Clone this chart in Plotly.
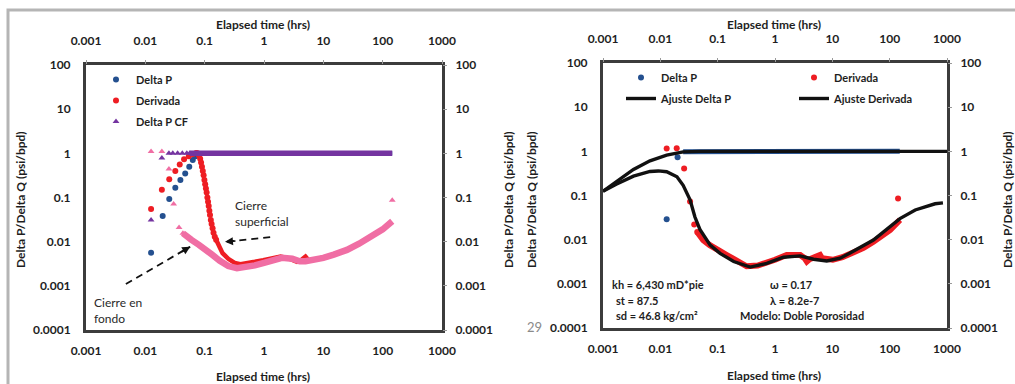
import math
import plotly.graph_objects as go

W, H = 1015, 384

# ---------------- tick labels ----------------
x_tick_vals = [0.001, 0.01, 0.1, 1, 10, 100, 1000]
x_tick_text = ["0.001", "0.01", "0.1", "1", "10", "100", "1000"]
y_tick_vals = [0.0001, 0.001, 0.01, 0.1, 1, 10, 100]
y_tick_text = ["0.0001", "0.001", "0.01", "0.1", "1", "10", "100"]

# ---------------- left panel data ----------------
lp_dp_t = [0.0125, 0.0196, 0.0253, 0.032, 0.039, 0.047, 0.055, 0.063, 0.07]
lp_dp_v = [0.0056, 0.038, 0.092, 0.166, 0.25, 0.35, 0.50, 0.71, 0.86]
lp_dp_flat_t = [0.075, 0.1, 145]
lp_dp_flat_v = [0.95, 1.0, 1.0]

lp_der_t = [0.0125, 0.019, 0.0253, 0.032, 0.038, 0.045, 0.054, 0.063, 0.072,
            0.076, 0.08, 0.084, 0.087, 0.09, 0.093, 0.096, 0.099, 0.102, 0.105,
            0.108, 0.111, 0.114, 0.117, 0.12, 0.123, 0.127, 0.131, 0.136, 0.141,
            0.148, 0.156]
lp_der_v = [0.055, 0.15, 0.26, 0.40, 0.56, 0.73, 0.86, 0.97, 1.02,
            1.0, 0.9, 0.75, 0.62, 0.5, 0.4, 0.32, 0.25, 0.2, 0.16,
            0.13, 0.1, 0.08, 0.064, 0.05, 0.04, 0.031, 0.025, 0.02, 0.016,
            0.013, 0.011]
lp_der_dense_t = [0.156, 0.18, 0.2, 0.25, 0.32, 0.4, 0.51, 0.7, 0.97, 1.4, 1.9,
                  2.6, 3.6, 4.2, 5.0, 5.6, 7, 10]
lp_der_dense_v = [0.011, 0.0072, 0.0055, 0.0041, 0.0033, 0.0031, 0.0032, 0.0035,
                  0.0038, 0.0043, 0.0046, 0.0042, 0.0035, 0.0038, 0.0046, 0.0038,
                  0.0039, 0.0044]

lp_cf_t = [0.0125, 0.019, 0.025, 0.029, 0.035, 0.042, 0.05, 0.056]
lp_cf_v = [0.031, 0.78, 1.0, 1.0, 1.0, 1.0, 1.0, 1.0]
lp_cf_flat_t = [0.056, 1, 145]
lp_cf_flat_v = [1.0, 1.0, 1.0]

lp_dcf_t = [0.0125, 0.019, 0.025, 0.030, 0.037, 0.043, 145]
lp_dcf_v = [1.1, 1.1, 0.44, 0.071, 0.021, 0.0155, 0.087]
lp_dcf_dense_t = [0.043, 0.05, 0.06, 0.08, 0.1, 0.13, 0.18, 0.25, 0.35, 0.5, 0.7,
                  1, 1.5, 2, 3, 4, 5, 7, 10, 15, 25, 40, 70, 100, 145]
lp_dcf_dense_v = [0.0155, 0.013, 0.011, 0.0085, 0.007, 0.0052, 0.0037, 0.0028,
                  0.0025, 0.0026, 0.0029, 0.0033, 0.0039, 0.0043, 0.0041, 0.0036,
                  0.0036, 0.0039, 0.0043, 0.0051, 0.0065, 0.009, 0.014, 0.019,
                  0.029]

# arrows (tail -> head)
arrow_sup_t = [1.27, 0.22]
arrow_sup_v = [0.0127, 0.0099]
arrow_fon_t = [0.0047, 0.057]
arrow_fon_v = [0.0011, 0.0077]

# ---------------- right panel data ----------------
rp_dp_t = [0.0129, 0.02]
rp_dp_v = [0.029, 0.73]
rp_dp_flat_t = [0.025, 1, 150]
rp_dp_flat_v = [0.98, 1.0, 1.0]

rp_der_t = [0.0129, 0.0193, 0.026, 0.033, 0.039, 0.044, 140]
rp_der_v = [1.16, 1.17, 0.41, 0.073, 0.022, 0.015, 0.086]
rp_der_dense_t = [0.044, 0.056, 0.073, 0.084, 0.11, 0.144, 0.2, 0.32, 0.5, 0.72,
                  1.0, 1.6, 2.75, 3.3, 3.6, 4.0, 6.1, 6.6, 10.2, 15, 23, 35, 52,
                  75, 102, 151]
rp_der_dense_v = [0.015, 0.0098, 0.0075, 0.0069, 0.0055, 0.0045, 0.0035, 0.0025,
                  0.0026, 0.0030, 0.0035, 0.0045, 0.0045, 0.0038, 0.0032, 0.0036,
                  0.0045, 0.0038, 0.0035, 0.004, 0.0049, 0.0065, 0.009, 0.012,
                  0.0165, 0.028]

fit_dp_t = [0.001, 0.0017, 0.0034, 0.0066, 0.0129, 0.025, 0.05, 1, 1000]
fit_dp_v = [0.125, 0.2, 0.39, 0.61, 0.82, 0.97, 1.0, 1.0, 1.0]

fit_der_t = [0.001, 0.0017, 0.0034, 0.0066, 0.0092, 0.0129, 0.0195, 0.025, 0.033,
             0.04, 0.049, 0.074, 0.11, 0.19, 0.37, 0.72, 1.4, 2.75, 4.7, 8,
             13.7, 20, 52, 151, 279, 620, 850]
fit_der_v = [0.125, 0.18, 0.275, 0.35, 0.36, 0.345, 0.265, 0.17, 0.08,
             0.033, 0.017, 0.0075, 0.0049, 0.0032, 0.0024, 0.0029, 0.004, 0.0043,
             0.0036, 0.0033, 0.0038, 0.0049, 0.0098, 0.030, 0.047, 0.065, 0.068]

# ---------------- styling ----------------
FONT = "Lato"
C_BLUE = "#24508f"
C_RED = "#ee1d23"
C_PURPLE = "#7434a0"
C_PINK = "#f06ea4"
C_BLACK = "#111111"
C_TXT = "#1e1e1e"

TICKFONT = dict(family=FONT, size=12, color=C_TXT, weight="bold")


def px_x(p):
    return p / W


def px_y(p):
    return 1 - p / H


fig = go.Figure()


def sc(x, y, ax, **kw):
    xa, ya = ax
    fig.add_trace(go.Scatter(x=x, y=y, xaxis=xa, yaxis=ya, **kw))


L = ("x", "y")
R = ("x3", "y3")

# left panel traces
sc(lp_dp_flat_t, lp_dp_flat_v, L, mode="lines", line=dict(color=C_BLUE, width=4),
   showlegend=False, hoverinfo="skip")
sc(lp_dp_t, lp_dp_v, L, mode="markers", name="Delta P", legend="legend",
   legendgroup="a", marker=dict(color=C_BLUE, size=6))
sc(lp_der_dense_t, lp_der_dense_v, L, mode="lines", line=dict(color=C_RED, width=4.5),
   showlegend=False, hoverinfo="skip")
sc(lp_der_t, lp_der_v, L, mode="markers", name="Derivada", legend="legend",
   legendgroup="b", marker=dict(color=C_RED, size=6))
sc(lp_cf_flat_t, lp_cf_flat_v, L, mode="lines", line=dict(color=C_PURPLE, width=5.5),
   showlegend=False, hoverinfo="skip")
sc(lp_cf_t, lp_cf_v, L, mode="markers", name="Delta P CF", legend="legend",
   legendgroup="c", marker=dict(color=C_PURPLE, size=6, symbol="triangle-up"))
sc(lp_dcf_dense_t, lp_dcf_dense_v, L, mode="lines", line=dict(color=C_PINK, width=6.5),
   showlegend=False, hoverinfo="skip")
sc(lp_dcf_t, lp_dcf_v, L, mode="markers", showlegend=False,
   marker=dict(color=C_PINK, size=6, symbol="triangle-up"))
# dashed arrows
sc(arrow_sup_t, arrow_sup_v, L, mode="lines", showlegend=False, hoverinfo="skip",
   line=dict(color=C_BLACK, width=1.8, dash="7px,5px"))
sc(arrow_fon_t, arrow_fon_v, L, mode="lines", showlegend=False, hoverinfo="skip",
   line=dict(color=C_BLACK, width=1.8, dash="7px,5px"))

# right panel traces
sc(rp_dp_flat_t, rp_dp_flat_v, R, mode="lines", line=dict(color=C_BLUE, width=5),
   showlegend=False, hoverinfo="skip")
sc(rp_dp_t, rp_dp_v, R, mode="markers", name="Delta P", legend="legend2",
   marker=dict(color=C_BLUE, size=6))
sc(rp_der_dense_t, rp_der_dense_v, R, mode="lines", line=dict(color=C_RED, width=6),
   showlegend=False, hoverinfo="skip")
sc(rp_der_t, rp_der_v, R, mode="markers", name="Derivada", legend="legend2",
   marker=dict(color=C_RED, size=6))
sc(fit_dp_t, fit_dp_v, R, mode="lines", name="Ajuste Delta P", legend="legend3",
   line=dict(color=C_BLACK, width=3.4))
sc(fit_der_t, fit_der_v, R, mode="lines", name="Ajuste Derivada", legend="legend3",
   line=dict(color=C_BLACK, width=3.4))

# dummy traces to register the overlaying axes
sc([], [], ("x2", "y2"), showlegend=False)
sc([], [], ("x4", "y4"), showlegend=False)


def xax(dom, anchor, side, overlay=None):
    d = dict(type="log", range=[-3, 3], tickmode="array", tickvals=x_tick_vals,
             ticktext=x_tick_text, tickfont=TICKFONT, showgrid=False,
             zeroline=False, anchor=anchor, side=side, automargin=False)
    if overlay:
        d.update(overlaying=overlay, showline=False, ticks="outside", ticklen=4,
                 tickcolor="#9a9a9a", tickwidth=1, ticklabelstandoff=10)
    else:
        d.update(domain=dom, showline=True, linecolor="#3c3c3c", linewidth=3,
                 mirror=True, ticks="", ticklabelstandoff=8)
    return d


def yax(dom, anchor, side, overlay=None):
    d = dict(type="log", range=[-4, 2], tickmode="array", tickvals=y_tick_vals,
             ticktext=y_tick_text, tickfont=TICKFONT, showgrid=False,
             zeroline=False, anchor=anchor, side=side, automargin=False)
    if overlay:
        d.update(overlaying=overlay, showline=False, ticks="outside", ticklen=4,
                 tickcolor="#9a9a9a", tickwidth=1, ticklabelstandoff=6)
    else:
        d.update(domain=dom, showline=True, linecolor="#3c3c3c", linewidth=3,
                 mirror=True, ticks="", ticklabelstandoff=10)
    return d


LX = [px_x(86), px_x(442)]
LY = [px_y(330), px_y(65)]
RX = [px_x(603), px_x(947)]
RY = [px_y(328), px_y(63)]

LEGFONT = dict(family=FONT, size=11, color=C_TXT, weight="bold")

fig.update_layout(
    template="none",
    width=W, height=H, margin=dict(l=0, r=0, t=0, b=0, pad=0, autoexpand=False),
    paper_bgcolor="white", plot_bgcolor="white",
    xaxis=xax(LX, "y", "bottom"),
    xaxis2=xax(None, "y", "top", overlay="x"),
    yaxis=yax(LY, "x", "left"),
    yaxis2=yax(None, "x", "right", overlay="y"),
    xaxis3=xax(RX, "y3", "bottom"),
    xaxis4=xax(None, "y3", "top", overlay="x3"),
    yaxis3=yax(RY, "x3", "left"),
    yaxis4=yax(None, "x3", "right", overlay="y3"),
    legend=dict(x=px_x(96), y=px_y(65), xanchor="left", yanchor="top",
                bgcolor="rgba(0,0,0,0)", font=LEGFONT, traceorder="grouped",
                tracegroupgap=2, itemwidth=30),
    legend2=dict(x=px_x(621), y=px_y(63), xanchor="left", yanchor="top",
                 orientation="h", entrywidth=128, entrywidthmode="pixels",
                 bgcolor="rgba(0,0,0,0)", font=LEGFONT, itemwidth=30),
    legend3=dict(x=px_x(621), y=px_y(84), xanchor="left", yanchor="top",
                 orientation="h", entrywidth=128, entrywidthmode="pixels",
                 bgcolor="rgba(0,0,0,0)", font=LEGFONT, itemwidth=30),
    showlegend=True,
)

TITLEFONT = dict(family=FONT, size=12, color=C_TXT, weight="bold")
ann = []


def title(text, px, py, angle=0):
    ann.append(dict(text=text, x=px_x(px), y=px_y(py), xref="paper", yref="paper",
                    xanchor="center", yanchor="middle", showarrow=False,
                    textangle=angle, font=TITLEFONT))


title("Elapsed time (hrs)", 263, 25)
title("Elapsed time (hrs)", 263, 376)
title("Elapsed time (hrs)", 774, 25)
title("Elapsed time (hrs)", 774, 375)
yt = "Delta P/Delta Q (psi/bpd)"
title(yt, 20, 200, -90)
title(yt, 508, 200, -90)
title(yt, 531, 200, -90)
title(yt, 1007, 200, -90)

NOTEFONT = dict(family=FONT, size=12, color="#2a2a2a")
ann.append(dict(text="Cierre<br>superficial", x=math.log10(0.30), y=math.log10(0.044),
                xref="x", yref="y", xanchor="left", yanchor="middle", align="left",
                showarrow=False, font=NOTEFONT))
ann.append(dict(text="Cierre en<br>fondo", x=math.log10(0.00126), y=math.log10(0.00028),
                xref="x", yref="y", xanchor="left", yanchor="middle", align="left",
                showarrow=False, font=NOTEFONT))
# arrowheads
ann.append(dict(text="", x=math.log10(arrow_sup_t[1]), y=math.log10(arrow_sup_v[1]),
                xref="x", yref="y", ax=12, ay=-1, showarrow=True, arrowhead=2,
                arrowsize=1, arrowwidth=1.6, arrowcolor=C_BLACK))
ann.append(dict(text="", x=math.log10(arrow_fon_t[1]), y=math.log10(arrow_fon_v[1]),
                xref="x", yref="y", ax=-10, ay=6, showarrow=True, arrowhead=2,
                arrowsize=1, arrowwidth=1.6, arrowcolor=C_BLACK))

BOXFONT = dict(family=FONT, size=11, color=C_TXT, weight="bold")


def box(text, px, py):
    ann.append(dict(text=text, x=px_x(px), y=px_y(py), xref="paper", yref="paper",
                    xanchor="left", yanchor="middle", showarrow=False, font=BOXFONT))


box("kh = 6,430 mD*pie", 610, 284)
box("st = 87.5", 614, 300)
box("sd = 46.8 kg/cm²", 614, 315)
box("ω = 0.17", 768, 284)
box("λ = 8.2e-7", 768, 300)
box("Modelo: Doble Porosidad", 738, 315)

ann.append(dict(text="29", x=px_x(534), y=px_y(327), xref="paper", yref="paper",
                xanchor="center", yanchor="middle", showarrow=False,
                font=dict(family=FONT, size=13, color="#8a8a8a")))

fig.update_layout(annotations=ann)

fig.add_shape(type="rect", xref="paper", yref="paper",
              x0=px_x(8), x1=px_x(1030), y0=px_y(400), y1=px_y(10),
              line=dict(color="#b5b5b5", width=3), fillcolor="rgba(0,0,0,0)",
              layer="below")

fig.write_html("out.html")
